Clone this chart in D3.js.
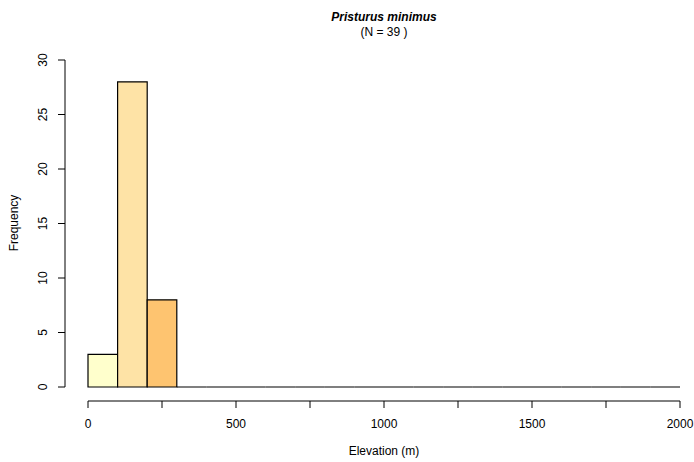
<!DOCTYPE html>
<html><head><meta charset="utf-8">
<script src="https://cdn.jsdelivr.net/npm/d3@7"></script>
<style>body{margin:0;background:#fff}svg{display:block;font-family:"Liberation Sans",Arial,sans-serif}</style>
</head><body><svg id="c" width="694" height="462"></svg>
<script>
const binStarts = [0,100,200,300,400,500,600,700,800,900,1000,1100,1200,1300,1400,1500,1600,1700,1800,1900];
const counts = [3,28,8,0,0,0,0,0,0,0,0,0,0,0,0,0,0,0,0,0];
const binColors = ["#FFFFCC","#FEE3A6","#FEC470","#FEA44E","#FD8D3C","#FC6C33","#F34A2A","#E31A1C","#C80F22","#B10026","#FFFFCC","#FFFFCC","#FFFFCC","#FFFFCC","#FFFFCC","#FFFFCC","#FFFFCC","#FFFFCC","#FFFFCC","#FFFFCC"];
const xTicks = [0,250,500,750,1000,1250,1500,1750,2000];
const xLabels = [0,500,1000,1500,2000];
const yTicks = [0,5,10,15,20,25,30];
const binWidth = 100;

const svg = d3.select("#c");
const x = d3.scaleLinear().domain([0,2000]).range([88,680]);
const y = d3.scaleLinear().domain([0,30]).range([387,60]);

svg.append("g").selectAll("path").data(counts).join("path")
  .attr("d",(d,i)=>{
    const x0 = x(binStarts[i]), x1 = x(binStarts[i]+binWidth), y0 = y(0), y1 = y(d);
    return `M${x0},${y0}V${y1}H${x1}V${y0}Z`;
  })
  .attr("fill",(d,i)=>binColors[i])
  .attr("stroke","#000").attr("stroke-width",1.2);

// x axis
const gx = svg.append("g").attr("transform","translate(0,401)");
gx.append("line").attr("x1",x(0)).attr("x2",x(2000)).attr("stroke","#000");
gx.selectAll("line.t").data(xTicks).join("line").attr("class","t")
  .attr("x1",d=>x(d)).attr("x2",d=>x(d)).attr("y1",0).attr("y2",7).attr("stroke","#000");
gx.selectAll("text").data(xLabels).join("text")
  .attr("x",d=>x(d)).attr("y",27).attr("text-anchor","middle").attr("font-size",12).text(d=>d);

// y axis
const gy = svg.append("g").attr("transform","translate(65,0)");
gy.append("line").attr("y1",y(0)).attr("y2",y(30)).attr("stroke","#000");
gy.selectAll("line.t").data(yTicks).join("line").attr("class","t")
  .attr("y1",d=>y(d)).attr("y2",d=>y(d)).attr("x1",0).attr("x2",-7).attr("stroke","#000");
gy.selectAll("text").data(yTicks).join("text")
  .attr("transform",d=>`translate(-18,${y(d)}) rotate(-90)`)
  .attr("text-anchor","middle").attr("font-size",12).text(d=>d);

svg.append("text").attr("transform","translate(18,223) rotate(-90)").attr("text-anchor","middle")
  .attr("font-size",12).text("Frequency");
svg.append("text").attr("x",384).attr("y",455).attr("text-anchor","middle").attr("font-size",12).text("Elevation (m)");
svg.append("text").attr("x",384).attr("y",21).attr("text-anchor","middle").attr("font-size",12)
  .attr("font-weight","bold").attr("font-style","italic").text("Pristurus minimus");
svg.append("text").attr("x",384).attr("y",36).attr("text-anchor","middle").attr("font-size",12).text("(N = 39 )");
</script></body></html>
